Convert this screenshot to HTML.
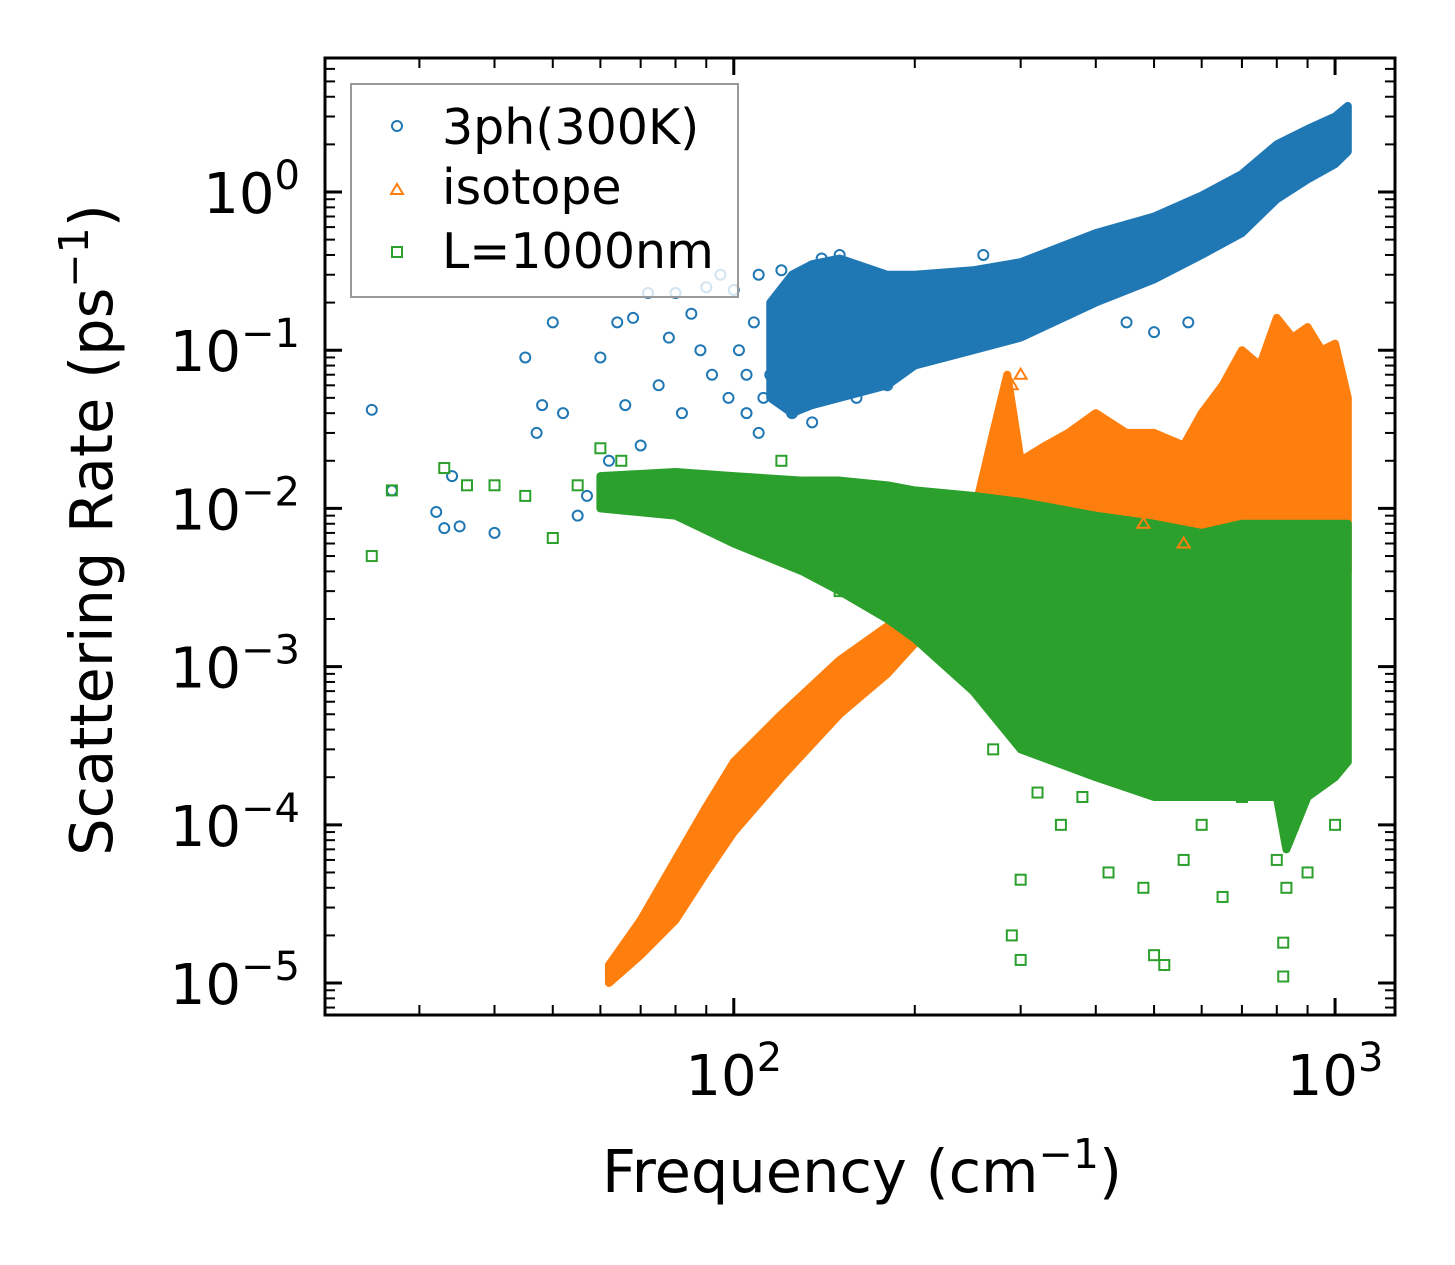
<!DOCTYPE html>
<html><head><meta charset="utf-8"><style>
body{margin:0;background:#fff}
svg{display:block;font-family:"DejaVu Sans","Liberation Sans",sans-serif}
</style></head><body>
<svg id="chart" width="1455" height="1265" viewBox="0 0 1455 1265">
<g id="bands"></g>
<g id="pts"></g>
<g id="axes"></g>
<g>
<rect x="351" y="84" width="387" height="213" fill="#fff" fill-opacity="0.8" stroke="#999" stroke-width="2"/>
<g><circle cx="397" cy="126" r="5" fill="none" stroke="#1f77b4" stroke-width="2"/><text x="442" y="144" font-size="49">3ph(300K)</text></g>
<g><polygon points="397,184 403,194 391,194" fill="none" stroke="#ff7f0e" stroke-width="2"/><text x="442" y="204" font-size="49">isotope</text></g>
<g><rect x="392" y="247" width="10" height="10" fill="none" stroke="#2ca02c" stroke-width="2"/><text x="442" y="268" font-size="49">L=1000nm</text></g>
</g>
<text x="862" y="1192" font-size="59" text-anchor="middle">Frequency (cm<tspan dy="-24" font-size="41">−1</tspan><tspan dy="24">)</tspan></text>
<text transform="translate(112,530) rotate(-90)" font-size="59" text-anchor="middle">Scattering Rate (ps<tspan dy="-24" font-size="41">−1</tspan><tspan dy="24">)</tspan></text>
</svg>
<script>
const xTickVals=[2,3];
const yTickVals=[0,-1,-2,-3,-4,-5];
// dense band data: frequency, lower, upper
const blueBandX=[115,125,135,150,180,200,250,300,400,500,600,700,800,900,1000,1050];
const blueBandLo=[0.05,0.04,0.045,0.05,0.06,0.08,0.1,0.12,0.2,0.28,0.4,0.55,0.9,1.2,1.5,1.8];
const blueBandHi=[0.2,0.3,0.35,0.38,0.3,0.3,0.32,0.36,0.55,0.7,0.95,1.3,2.0,2.5,3.0,3.5];
const orangeLowX=[62,70,80,90,100,120,150,180,200,220];
const orangeLowLo=[1.0e-5,1.5e-5,2.5e-5,5e-5,9e-5,2e-4,5e-4,9e-4,1.4e-3,2.0e-3];
const orangeLowHi=[1.3e-5,2.5e-5,6e-5,1.3e-4,2.5e-4,5e-4,1.1e-3,1.8e-3,2.5e-3,3.2e-3];
const orangeHiX=[255,270,285,300,330,360,400,450,500,560,600,650,700,750,800,850,900,950,1000,1050];
const orangeHiLo=[4e-3,5e-3,5e-3,5e-3,5e-3,5e-3,5e-3,5e-3,5e-3,5e-3,5e-3,5e-3,5e-3,5e-3,5e-3,5e-3,5e-3,5e-3,5e-3,4e-3];
const orangeHiHi=[1.2e-2,3e-2,7e-2,2e-2,2.5e-2,3e-2,4e-2,3e-2,3e-2,2.5e-2,4e-2,6e-2,1.0e-1,8e-2,1.6e-1,1.2e-1,1.4e-1,1.0e-1,1.1e-1,5e-2];
const greenBandX=[60,80,100,130,150,180,200,250,300,400,500,600,700,800,830,900,1000,1050];
const greenBandLo=[1.0e-2,9e-3,6e-3,4e-3,3e-3,2e-3,1.5e-3,7e-4,3e-4,2e-4,1.5e-4,1.5e-4,1.5e-4,1.5e-4,7e-5,1.5e-4,2e-4,2.5e-4];
const greenBandHi=[1.6e-2,1.7e-2,1.6e-2,1.5e-2,1.5e-2,1.4e-2,1.3e-2,1.2e-2,1.1e-2,9e-3,8e-3,7e-3,8e-3,8e-3,8e-3,8e-3,8e-3,8e-3];
// sparse points
const blueX=[25,27,32,33,34,35,40,45,47,48,50,52,55,57,60,62,64,66,68,70,72,75,78,80,82,85,88,90,92,95,98,100,102,105,110,115,120,125,135,140,150,160,180,260,300,450,500,570,110,130,105,108,112,118];
const blueY=[0.042,0.013,0.0095,0.0075,0.016,0.0077,0.007,0.09,0.03,0.045,0.15,0.04,0.009,0.012,0.09,0.02,0.15,0.045,0.16,0.025,0.23,0.06,0.12,0.23,0.04,0.17,0.1,0.25,0.07,0.3,0.05,0.24,0.1,0.04,0.3,0.07,0.32,0.04,0.035,0.38,0.4,0.05,0.06,0.4,0.14,0.15,0.13,0.15,0.03,0.2,0.07,0.15,0.05,0.12];
const orangeX=[290,300,560,850,480,700];
const orangeY=[0.06,0.07,0.006,0.022,0.008,0.03];
const greenX=[25,27,33,36,40,45,50,55,60,65,80,120,130,150,190,270,300,300,320,350,400,420,480,500,520,600,650,700,800,820,830,850,900,950,1000,290,380,560,820];
const greenY=[0.005,0.013,0.018,0.014,0.014,0.012,0.0065,0.014,0.024,0.02,0.015,0.02,0.005,0.003,0.012,0.0003,4.5e-5,1.4e-5,0.00016,0.0001,0.0005,5e-5,4e-5,1.5e-5,1.3e-5,0.0001,3.5e-5,0.00015,6e-5,1.1e-5,4e-5,0.0001,5e-5,0.0002,0.0001,2e-5,1.5e-4,6e-5,1.8e-5];

const X0=325,X1=1395,Y0=58,Y1=1015;
const xl=Math.log10(20.9),xr=Math.log10(1258),yt=0.847,yb=-5.202;
function sx(v){return X0+(Math.log10(v)-xl)/(xr-xl)*(X1-X0);}
function sy(v){return Y0+(yt-Math.log10(v))/(yt-yb)*(Y1-Y0);}
const NS='http://www.w3.org/2000/svg';
function mk(t,a,p){const e=document.createElementNS(NS,t);for(const k in a)e.setAttribute(k,a[k]);p.appendChild(e);return e;}
const bands=document.getElementById('bands'),pts=document.getElementById('pts'),axes=document.getElementById('axes');
function band(xs,lo,hi,col,name){
  let p=xs.map((x,i)=>sx(x)+','+sy(hi[i]));
  for(let i=xs.length-1;i>=0;i--)p.push(sx(xs[i])+','+sy(lo[i]));
  const e=mk('polygon',{points:p.join(' '),fill:col,stroke:col,'stroke-width':8,'stroke-linejoin':'round'},bands);
  
  
}
function marker(type,x,y,col,name){
  const cx=sx(x),cy=sy(y);let e;
  if(type==='c')e=mk('circle',{cx:cx,cy:cy,r:5,fill:'none',stroke:col,'stroke-width':2},pts);
  else if(type==='t')e=mk('polygon',{points:`${cx},${cy-6} ${cx+6},${cy+4} ${cx-6},${cy+4}`,fill:'none',stroke:col,'stroke-width':2},pts);
  else e=mk('rect',{x:cx-5,y:cy-5,width:10,height:10,fill:'none',stroke:col,'stroke-width':2},pts);
  
  
}
band(blueBandX,blueBandLo,blueBandHi,'#1f77b4','band-3ph');
band(orangeLowX,orangeLowLo,orangeLowHi,'#ff7f0e','band-isotope-low');
band(orangeHiX,orangeHiLo,orangeHiHi,'#ff7f0e','band-isotope-high');
band(greenBandX,greenBandLo,greenBandHi,'#2ca02c','band-boundary');
blueX.forEach((x,i)=>marker('c',x,blueY[i],'#1f77b4','point-3ph'));
orangeX.forEach((x,i)=>marker('t',x,orangeY[i],'#ff7f0e','point-isotope'));
greenX.forEach((x,i)=>marker('s',x,greenY[i],'#2ca02c','point-boundary'));
const fr=mk('rect',{x:X0,y:Y0,width:X1-X0,height:Y1-Y0,fill:'none',stroke:'#000','stroke-width':3},axes);


function tick(x1,y1,x2,y2,w){mk('line',{x1:x1,y1:y1,x2:x2,y2:y2,stroke:'#000','stroke-width':w},axes);}
for(let d=1;d<=3;d++)for(let m=1;m<10;m++){const v=m*Math.pow(10,d);if(v<20.9||v>1258)continue;const x=sx(v);const L=m===1?17:10;tick(x,Y1,x,Y1-L,m===1?3:2);tick(x,Y0,x,Y0+L,m===1?3:2);}
xTickVals.forEach(d=>{const t=mk('text',{x:sx(Math.pow(10,d)),y:1095,'font-size':56,'text-anchor':'middle'},axes);t.innerHTML='10<tspan dy="-24" font-size="40">'+d+'</tspan>';});
for(let d=-6;d<=0;d++)for(let m=1;m<10;m++){const v=m*Math.pow(10,d);const lv=Math.log10(v);if(lv<yb||lv>yt)continue;const y=sy(v);const L=m===1?17:10;tick(X0,y,X0+L,y,m===1?3:2);tick(X1,y,X1-L,y,m===1?3:2);}
yTickVals.forEach(d=>{const t=mk('text',{x:300,y:sy(Math.pow(10,d))+21,'font-size':56,'text-anchor':'end'},axes);t.innerHTML='10<tspan dy="-24" font-size="40">'+(d===0?'0':'−'+(-d))+'</tspan>';});
</script>
</body></html>
